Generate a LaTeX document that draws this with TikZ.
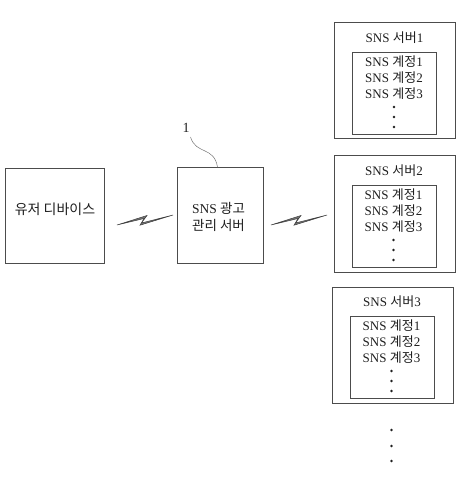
\documentclass[tikz,border=0pt]{standalone}
\usepackage{fontspec}
\setmainfont{Liberation Serif}
\newfontfamily\kr{Noto Sans CJK KR}
\definecolor{ln}{gray}{0.3}
\tikzset{
  box/.style={draw=ln,line width=1pt,fill=white,inner sep=0pt},
  lab/.style={font=\fontsize{13}{15}\selectfont,text=black!88,inner sep=0pt,align=center},
  dotn/.style={circle,fill=black!88,minimum size=2.6pt,inner sep=0pt},
  bolt/.style={draw=black!75,line width=0.5pt,fill=black!55,line join=miter}
}
\newcommand{\srv}[3]{% x-left, y-top, index
  \node[box,minimum width=121pt,minimum height=116pt] (s#3) at (#1+60.5,#2+58) {};
  \node[box,minimum width=84pt,minimum height=82pt] (i#3) at (#1+60,#2+70.5) {};
  \node[lab] (t#3) at (#1+60,#2+15) {SNS {\kr 서버}#3};
  \node[lab] (a#3) at (#1+59.5,#2+39) {SNS {\kr 계정}1};
  \node[lab] (b#3) at (#1+59.5,#2+55) {SNS {\kr 계정}2};
  \node[lab] (c#3) at (#1+59.5,#2+71) {SNS {\kr 계정}3};
  \node[dotn] (d#3) at (#1+59.5,#2+84) {};
  \node[dotn] (e#3) at (#1+59.5,#2+94) {};
  \node[dotn] (f#3) at (#1+59.5,#2+104) {};
}
\newcommand{\boltat}[2]{% x,y offset
  \path[bolt] (#1,#2) -- (#1+30,#2-9.5) -- (#1+24.5,#2-2) -- (#1+56,#2-10) -- (#1+23,#2+0.2) -- (#1+27,#2-6.5) -- cycle;
}
\begin{document}
\begin{tikzpicture}[x=1pt,y=-1pt]
\useasboundingbox (0,0) rectangle (467,481);
\node[box,minimum width=99pt,minimum height=95pt] (user) at (54.5,215.5) {};
\node[lab,font=\fontsize{14}{16}\selectfont] (userlab) at (55,209) {{\kr 유저 디바이스}};
\node[box,minimum width=86pt,minimum height=96pt] (ad) at (220.5,215) {};
\node[lab,font=\fontsize{13.5}{17}\selectfont] (adlab) at (218.5,217) {SNS {\kr 광고}\\{\kr 관리 서버}};
\node[lab,font=\fontsize{14}{16}\selectfont] (ref) at (186,128) {1};
\coordinate (refstart) at (190.5,137);
\coordinate (refend) at (217.5,167);
\draw[draw=black!55,line width=0.5pt] (refstart) .. controls (196,155) and (214,146) .. (refend);
\boltat{117}{225}
\boltat{271}{225}
\srv{334.5}{23}{1}
\srv{334}{156}{2}
\srv{332}{287}{3}
\node[dotn] (m1) at (391.5,430) {};
\node[dotn] (m2) at (391.5,446) {};
\node[dotn] (m3) at (391.5,461) {};
\end{tikzpicture}
\end{document}
